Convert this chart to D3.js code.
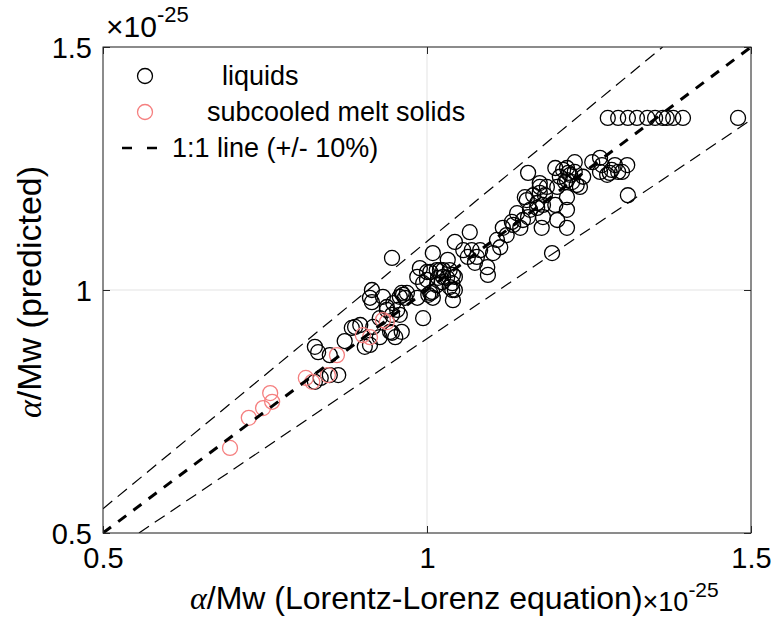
<!DOCTYPE html>
<html>
<head>
<meta charset="utf-8">
<script src="https://cdn.jsdelivr.net/npm/d3@7"></script>
<style>
  body { margin: 0; background: #fff; }
  text { font-family: "Liberation Sans", Arial, Helvetica, sans-serif; fill: #000; }
</style>
</head>
<body>
<svg id="chart" width="771" height="619"></svg>
<script>
// values are in units of 1e-25
const liquidsX = [0.827,0.832,0.850,0.873,0.884,0.889,0.897,0.904,0.850,0.863,
  0.827,0.836,0.912,0.917,0.927,0.943,0.951,0.946,0.961,0.915,
  0.938,0.954,0.927,0.938,0.946,0.958,0.994,0.915,0.912,0.946,
  0.932,0.948,0.958,0.963,0.966,0.969,0.961,0.985,0.985,0.989,
  0.994,1.000,1.000,1.002,1.005,1.005,1.008,1.009,1.009,1.015,
  1.015,1.017,1.020,1.023,1.025,1.025,1.031,1.032,1.035,1.035,
  1.039,1.039,1.040,1.040,1.043,1.043,1.043,1.056,1.063,1.066,
  1.069,1.074,1.077,1.082,1.093,1.094,1.102,1.108,1.113,1.117,
  1.123,1.131,1.133,1.139,1.144,1.148,1.151,1.154,1.156,1.156,
  1.159,1.164,1.170,1.170,1.174,1.174,1.174,1.179,1.179,1.177,
  1.182,1.185,1.193,1.198,1.198,1.201,1.201,1.205,1.210,1.213,
  1.216,1.216,1.216,1.216,1.216,1.218,1.221,1.224,1.228,1.228,
  1.231,1.236,1.241,1.255,1.267,1.267,1.270,1.278,1.282,1.285,
  1.290,1.295,1.301,1.309,1.310,
  1.279,1.295,1.310,1.324,1.340,1.352,1.364,1.370,1.380,1.395,1.480];
const liquidsY = [0.883,0.872,0.866,0.895,0.922,0.924,0.928,0.883,0.825,0.825,
  0.811,0.819,0.887,0.924,0.903,0.914,0.903,0.912,0.914,0.975,
  0.965,0.959,0.942,0.959,0.949,0.949,0.942,1.000,0.984,1.066,
  0.986,0.973,0.986,0.990,0.984,0.994,0.994,0.984,1.027,1.045,
  1.014,1.037,1.021,0.990,1.037,0.994,0.996,1.076,0.984,1.041,
  1.010,1.025,1.041,1.016,1.041,1.027,1.025,1.062,1.041,1.006,
  1.014,1.000,1.031,0.979,1.099,1.027,1.000,1.082,1.068,1.119,
  1.082,1.056,1.068,1.082,1.047,1.031,1.076,1.103,1.088,1.128,
  1.113,1.140,1.134,1.158,1.128,1.144,1.191,1.185,1.241,1.150,
  1.165,1.195,1.179,1.169,1.220,1.212,1.200,1.175,1.150,1.128,
  1.195,1.212,1.076,1.251,1.175,1.212,1.144,1.233,1.247,1.222,
  1.251,1.226,1.191,1.165,1.128,1.241,1.237,1.222,1.263,1.243,
  1.216,1.212,1.233,1.263,1.272,1.243,1.257,1.237,1.241,1.247,
  1.257,1.243,1.243,1.257,1.195,
  1.354,1.354,1.354,1.354,1.354,1.354,1.354,1.354,1.354,1.354,1.354];

const solidsX = [0.696,0.725,0.747,0.758,0.761,0.813,0.823,0.847,0.861,0.901,0.912,0.932,0.938];
const solidsY = [0.675,0.737,0.757,0.788,0.770,0.819,0.811,0.825,0.866,0.907,0.903,0.938,0.934];

const ticks = [0.5, 1, 1.5];
const lineFactors = [0.9, 1.1, 1];   // +/- 10% band and the 1:1 line
const legendLabels = ["liquids", "subcooled melt solids", "1:1 line (+/- 10%)"];

const red = "#f57f7f";

const margin = {left: 103, top: 47, right: 20, bottom: 86};
const width = 771 - margin.left - margin.right;
const height = 619 - margin.top - margin.bottom;

const svg = d3.select("#chart");
const g = svg.append("g").attr("transform", `translate(${margin.left},${margin.top})`);

const x = d3.scaleLinear().domain([0.5, 1.5]).range([0, width]);
const y = d3.scaleLinear().domain([0.5, 1.5]).range([height, 0]);

// grid
g.selectAll(".gx").data(ticks).join("line")
  .attr("x1", d => x(d)).attr("x2", d => x(d)).attr("y1", 0).attr("y2", height)
  .attr("stroke", "#e3e3e3").attr("stroke-width", 1);
g.selectAll(".gy").data(ticks).join("line")
  .attr("y1", d => y(d)).attr("y2", d => y(d)).attr("x1", 0).attr("x2", width)
  .attr("stroke", "#e3e3e3").attr("stroke-width", 1);

// points
g.append("clipPath").attr("id", "clip").append("rect")
  .attr("width", width).attr("height", height);

const plot = g.append("g").attr("clip-path", "url(#clip)");

plot.selectAll(".liq").data(liquidsX.map((d, i) => [d, liquidsY[i]])).join("circle")
  .attr("cx", d => x(d[0])).attr("cy", d => y(d[1])).attr("r", 7.5)
  .attr("fill", "none").attr("stroke", "#000").attr("stroke-width", 1.3);

plot.selectAll(".sol").data(solidsX.map((d, i) => [d, solidsY[i]])).join("circle")
  .attr("cx", d => x(d[0])).attr("cy", d => y(d[1])).attr("r", 7.5)
  .attr("fill", "none").attr("stroke", red).attr("stroke-width", 1.3);

// 1:1 line and +/-10% lines
lineFactors.forEach(f => {
  const x0 = Math.max(0.5, 0.5 / f), x1 = Math.min(1.5, 1.5 / f);
  plot.append("line")
    .attr("x1", x(x0)).attr("y1", y(f * x0))
    .attr("x2", x(x1)).attr("y2", y(f * x1))
    .attr("stroke", "#000")
    .attr("stroke-width", f === 1 ? 3 : 1.2)
    .attr("stroke-dasharray", f === 1 ? "10,9" : "12,7");
});

// axes (ticks inward on all sides)
const fmt = d3.format("");
const xAxis = g.append("g").attr("transform", `translate(0,${height})`)
  .call(d3.axisBottom(x).tickValues(ticks).tickFormat(fmt).tickSize(-7).tickPadding(14));
const yAxis = g.append("g")
  .call(d3.axisLeft(y).tickValues(ticks).tickFormat(fmt).tickSize(-7).tickPadding(11));
g.append("g").call(d3.axisTop(x).tickValues(ticks).tickFormat("").tickSize(-7));
g.append("g").attr("transform", `translate(${width},0)`)
  .call(d3.axisRight(y).tickValues(ticks).tickFormat("").tickSize(-7));

g.selectAll(".domain").remove();
g.selectAll(".tick line").attr("stroke", "#262626");
xAxis.selectAll("text").attr("font-size", 29).attr("dy", "0.71em").attr("font-family", "Liberation Sans, Arial, sans-serif");
yAxis.selectAll("text").attr("font-size", 29).attr("dy", "0.36em").attr("font-family", "Liberation Sans, Arial, sans-serif");

g.append("rect").attr("width", width).attr("height", height)
  .attr("fill", "none").attr("stroke", "#262626").attr("stroke-width", 1);

// exponent labels
const expTop = svg.append("text").attr("x", 106).attr("y", 37).attr("font-size", 30);
expTop.append("tspan").text("×10");
expTop.append("tspan").attr("dy", -15).attr("font-size", 22).text("-25");

// x label
const xl = svg.append("text").attr("x", 190).attr("y", 609).attr("font-size", 32);
xl.append("tspan").attr("font-family", "Liberation Serif, DejaVu Serif, serif").attr("font-style", "italic").text("α");
xl.append("tspan").text("/Mw (Lorentz-Lorenz equation)");
xl.append("tspan").attr("font-size", 27).attr("dy", 2).text("×10");
xl.append("tspan").attr("font-size", 21).attr("dy", -14).text("-25");

// y label
const yl = svg.append("text").attr("transform", "translate(41,292) rotate(-90)")
  .attr("text-anchor", "middle").attr("font-size", 34);
yl.append("tspan").attr("font-family", "Liberation Serif, DejaVu Serif, serif").attr("font-style", "italic").text("α");
yl.append("tspan").text("/Mw (predicted)");

// legend
const leg = svg.append("g");
const legX = [222, 207, 172];
const legY = [76, 112, 148];
leg.append("circle").attr("cx", 145).attr("cy", legY[0]).attr("r", 7.5)
  .attr("fill", "none").attr("stroke", "#000").attr("stroke-width", 1.3);
leg.append("circle").attr("cx", 145).attr("cy", legY[1]).attr("r", 7.5)
  .attr("fill", "none").attr("stroke", red).attr("stroke-width", 1.3);
leg.append("line").attr("x1", 122).attr("x2", 158).attr("y1", legY[2]).attr("y2", legY[2])
  .attr("stroke", "#000").attr("stroke-width", 2.5).attr("stroke-dasharray", "10,15");
legendLabels.forEach((t, i) => {
  leg.append("text").attr("x", legX[i]).attr("y", legY[i]).attr("dy", "0.35em")
    .attr("font-size", 27).text(t);
});
</script>
</body>
</html>
